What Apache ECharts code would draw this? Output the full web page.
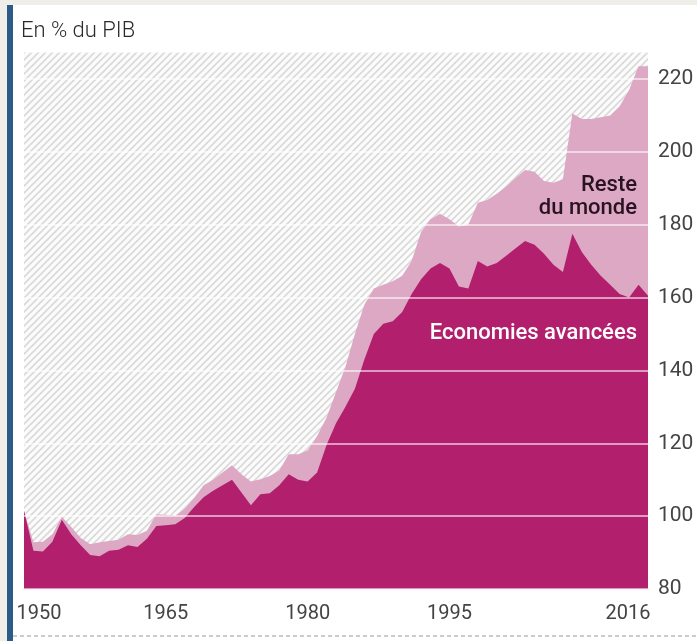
<!DOCTYPE html>
<html>
<head>
<meta charset="utf-8">
<script src="https://cdn.jsdelivr.net/npm/echarts@6/dist/echarts.min.js"></script>
<style>
  html, body { margin: 0; padding: 0; }
  body { width: 697px; height: 641px; background: #efeee8; position: relative; overflow: hidden; }
  #panel { position: absolute; left: 13px; top: 5px; width: 684px; height: 636px; background: #fff; }
  #strip { position: absolute; left: 7px; top: 5px; width: 6px; height: 636px; background: #2c5b88; }
  #chart { position: absolute; left: 0; top: 0; width: 697px; height: 641px; }
</style>
</head>
<body>
<div id="panel"></div>
<div id="strip"></div>
<div id="chart"></div>
<script>
const annees = ["1950","1951","1952","1953","1954","1955","1956","1957","1958","1959",
  "1960","1961","1962","1963","1964","1965","1966","1967","1968","1969",
  "1970","1971","1972","1973","1974","1975","1976","1977","1978","1979",
  "1980","1981","1982","1983","1984","1985","1986","1987","1988","1989",
  "1990","1991","1992","1993","1994","1995","1996","1997","1998","1999",
  "2000","2001","2002","2003","2004","2005","2006","2007","2008","2009",
  "2010","2011","2012","2013","2014","2015","2016"];

// dette totale, économies avancées (% du PIB)
const avancees = [101.5, 90.5, 90.3, 93, 99, 95, 92, 89.3, 89, 90.5,
  90.8, 92, 91.5, 93.8, 97.3, 97.5, 97.8, 99.5, 102.5, 105.2,
  107, 108.5, 110, 106.5, 103, 106, 106.3, 108.5, 111.5, 110,
  109.5, 112, 119.5, 125.5, 130, 135, 143, 150, 152.8, 153.5,
  156, 161, 165, 168, 169.5, 168, 163, 162.5, 170, 168.5,
  169.5, 171.5, 173.5, 175.5, 174.5, 172, 169, 167, 177.5, 172.5,
  169, 166, 163.5, 161, 160, 163.5, 160.5];

// dette totale, monde (% du PIB)
const monde = [101.5, 92.8, 93, 95, 99.8, 97, 94, 92.3, 92.8, 93.2,
  93.5, 95, 94.8, 96, 100.5, 100.4, 100.1, 102, 105, 108.5,
  110, 112, 114, 111.5, 109.5, 110.1, 111, 112.5, 117, 117,
  118, 122, 127, 134, 141, 150, 158, 162.5, 163.5, 164.5,
  166, 170, 178, 181.5, 183, 181.5, 179.5, 180, 186, 186.8,
  188.5, 190.5, 192.8, 195, 194.5, 192, 191.5, 192.5, 210.5, 209,
  209, 209.5, 210, 212.5, 217, 223.5, 223.5];

const anneesAffichees = ["1950", "1965", "1980", "1995", "2016"];

// motif hachuré du fond
const hatch = document.createElement("canvas");
hatch.width = 7;
hatch.height = 7;
const ctx = hatch.getContext("2d");
ctx.fillStyle = "#fbfbfb";
ctx.fillRect(0, 0, 7, 7);
ctx.strokeStyle = "#dadada";
ctx.lineWidth = 1.7;
ctx.beginPath();
ctx.moveTo(-1, 8); ctx.lineTo(8, -1);
ctx.moveTo(-8, 8); ctx.lineTo(1, -1);
ctx.moveTo(6, 8); ctx.lineTo(15, -1);
ctx.stroke();

const myChart = echarts.init(document.getElementById("chart"));

myChart.setOption({
  backgroundColor: "transparent",
  animation: false,
  textStyle: { fontFamily: "Roboto, 'Noto Sans', sans-serif" },
  title: {
    text: "En % du PIB",
    left: 16,
    top: 15,
    textStyle: { fontSize: 22, fontWeight: 300, color: "#2a2a2a", fontFamily: "Roboto" }
  },
  grid: {
    left: 24,
    right: 49,
    top: 52,
    bottom: 52,
    show: true,
    borderWidth: 0,
    backgroundColor: { image: hatch, repeat: "repeat" }
  },
  xAxis: {
    type: "category",
    data: annees,
    boundaryGap: false,
    axisLine: { show: true, lineStyle: { color: "#dcdcdc", width: 1.5 } },
    axisTick: { show: false },
    splitLine: { show: false },
    axisLabel: {
      interval: (i, v) => anneesAffichees.includes(v),
      margin: 15,
      fontSize: 20,
      color: "#444",
      formatter: v => v === "1950" ? "{a|" + v + "}" : v === "2016" ? "{b|" + v + "}" : v,
      rich: {
        a: { fontSize: 20, color: "#444", padding: [0, 0, 0, 30] },
        b: { fontSize: 20, color: "#444", padding: [0, 40, 0, 0] }
      }
    }
  },
  yAxis: {
    type: "value",
    position: "right",
    min: 80,
    max: 227.4,
    interval: 20,
    z: 5,
    axisLine: { show: false },
    axisTick: { show: false },
    splitLine: { show: true, lineStyle: { color: "rgba(255,255,255,0.75)", width: 1.5 } },
    axisLabel: {
      margin: 10,
      fontSize: 21,
      color: "#444",
      padding: [0, 0, 7, 0],
      formatter: v => (v % 20 === 0 ? String(v) : "")
    }
  },
  series: [
    {
      name: "Monde",
      type: "line",
      data: monde,
      symbol: "none",
      lineStyle: { width: 0 },
      areaStyle: { color: "#dca8c4", opacity: 1, origin: "start" },
      z: 2
    },
    {
      name: "Economies avancées",
      type: "line",
      data: avancees,
      symbol: "none",
      lineStyle: { width: 0 },
      areaStyle: { color: "#b21f6d", opacity: 1, origin: "start" },
      z: 3
    }
  ],
  graphic: [
    {
      type: "text",
      right: 60,
      top: 174,
      z: 10,
      style: { text: "Reste", fontSize: 22, fontWeight: 500, fill: "#2a1320", fontFamily: "Roboto" }
    },
    {
      type: "text",
      right: 60,
      top: 197,
      z: 10,
      style: { text: "du monde", fontSize: 22, fontWeight: 500, fill: "#2a1320", fontFamily: "Roboto" }
    },
    {
      type: "text",
      right: 60,
      top: 322,
      z: 10,
      style: { text: "Economies avancées", fontSize: 22, fontWeight: 500, fill: "#ffffff", fontFamily: "Roboto" }
    },
    {
      type: "line",
      z: 10,
      shape: { x1: 13, y1: 636, x2: 697, y2: 636 },
      style: { stroke: "#999", lineWidth: 1, lineDash: [4, 3] }
    }
  ]
});

myChart.resize();
</script>
</body>
</html>
